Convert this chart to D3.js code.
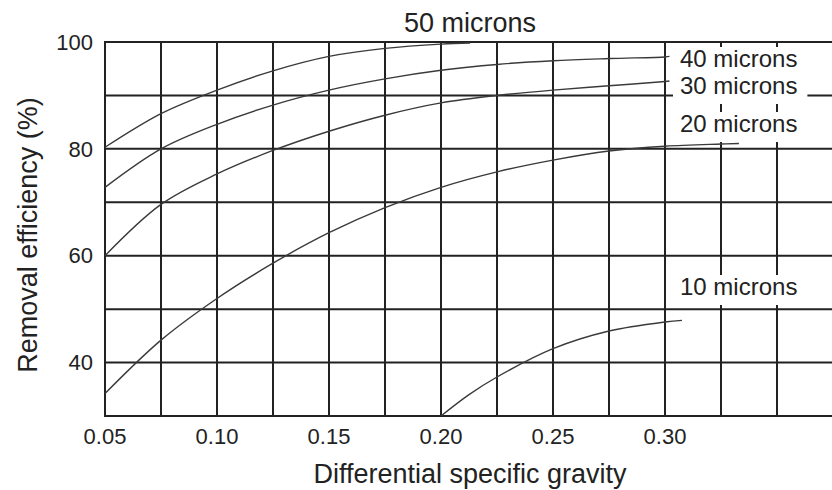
<!DOCTYPE html>
<html>
<head>
<meta charset="utf-8">
<script src="https://cdn.jsdelivr.net/npm/d3@7"></script>
<style>
  body { margin: 0; background: #fff; }
  text { font-family: "Liberation Sans", Arial, Helvetica, sans-serif; fill: #222; }
</style>
</head>
<body>
<script>
// values
var xGrid = [0.05, 0.075, 0.1, 0.125, 0.15, 0.175, 0.2, 0.225, 0.25, 0.275, 0.3, 0.325, 0.35];
var yGrid = [30, 40, 50, 60, 70, 80, 90, 100];
var xTickLabels = [0.05, 0.10, 0.15, 0.20, 0.25, 0.30];
var yTickLabels = [40, 60, 80, 100];

var sg50 = [0.05, 0.075, 0.1, 0.125, 0.15, 0.175, 0.2, 0.213];
var eff50 = [80.3, 86.6, 91, 94.6, 97.3, 98.8, 99.6, 99.8];
var sg40 = [0.05, 0.075, 0.1, 0.125, 0.15, 0.175, 0.2, 0.225, 0.25, 0.275, 0.3, 0.302];
var eff40 = [72.8, 80, 84.6, 88.2, 91, 93.1, 94.7, 95.8, 96.5, 96.9, 97.2, 97.3];
var sg30 = [0.05, 0.075, 0.1, 0.125, 0.15, 0.175, 0.2, 0.225, 0.25, 0.275, 0.3, 0.302];
var eff30 = [60, 69.6, 75.3, 79.7, 83.3, 86.3, 88.6, 90, 91, 91.8, 92.6, 92.7];
var sg20 = [0.05, 0.075, 0.1, 0.125, 0.15, 0.175, 0.2, 0.225, 0.25, 0.275, 0.3, 0.325, 0.333];
var eff20 = [34.2, 44.2, 52, 58.6, 64.3, 69, 72.8, 75.7, 77.9, 79.6, 80.5, 80.9, 81];
var sg10 = [0.2, 0.2125, 0.225, 0.25, 0.275, 0.3, 0.3076];
var eff10 = [30, 34, 37.3, 42.6, 45.9, 47.6, 47.9];

var width = 832, height = 490;

var svg = d3.select("body")
    .append("svg")
    .attr("width", width)
    .attr("height", height);

var x = d3.scaleLinear().domain([0.05, 0.375]).range([105, 833]);
var y = d3.scaleLinear().domain([30, 100]).range([416, 42]);

// grid
var grid = svg.append("g").attr("class", "grid")
    .style("stroke", "#222")
    .style("stroke-width", 2);

grid.selectAll("line.v")
    .data(xGrid)
    .enter().append("line")
    .attr("class", "v")
    .attr("x1", function (d) { return x(d); })
    .attr("x2", function (d) { return x(d); })
    .attr("y1", y(100))
    .attr("y2", y(30));

grid.selectAll("line.h")
    .data(yGrid)
    .enter().append("line")
    .attr("class", "h")
    .attr("x1", x(0.05) - 1)
    .attr("x2", width)
    .attr("y1", function (d) { return y(d); })
    .attr("y2", function (d) { return y(d); });

// curves
var line = d3.line()
    .x(function (d) { return x(d[0]); })
    .y(function (d) { return y(d[1]); })
    .curve(d3.curveCatmullRom.alpha(0.5));

var curves = [
    d3.zip(sg50, eff50),
    d3.zip(sg40, eff40),
    d3.zip(sg30, eff30),
    d3.zip(sg20, eff20),
    d3.zip(sg10, eff10)
];

svg.append("g")
    .selectAll("path")
    .data(curves)
    .enter().append("path")
    .attr("d", line)
    .style("fill", "none")
    .style("stroke", "#3a3a3a")
    .style("stroke-width", 1.4);

// curve labels with white boxes behind them
var labels = [
    {text: "40 microns", x: 680, y: 67},
    {text: "30 microns", x: 680, y: 94},
    {text: "20 microns", x: 680, y: 132},
    {text: "10 microns", x: 680, y: 295}
];

var lg = svg.append("g");
labels.forEach(function (d) {
    var g = lg.append("g");
    var rect = g.append("rect").style("fill", "#fff");
    var t = g.append("text")
        .attr("x", d.x)
        .attr("y", d.y)
        .style("font-size", "24px")
        .text(d.text);
    var b = t.node().getBBox();
    rect.attr("x", b.x - 7)
        .attr("y", b.y + 2)
        .attr("width", b.width + 17)
        .attr("height", b.height + 3);
});

svg.append("text")
    .attr("x", 470)
    .attr("y", 32)
    .attr("text-anchor", "middle")
    .style("font-size", "27px")
    .text("50 microns");

// tick labels
svg.selectAll("text.xt")
    .data(xTickLabels)
    .enter().append("text")
    .attr("class", "xt")
    .attr("x", function (d) { return x(d); })
    .attr("y", 444)
    .attr("text-anchor", "middle")
    .style("font-size", "22px")
    .text(d3.format(".2f"));

svg.selectAll("text.yt")
    .data(yTickLabels)
    .enter().append("text")
    .attr("class", "yt")
    .attr("x", 93)
    .attr("y", function (d) { return y(d); })
    .attr("dy", "0.35em")
    .attr("text-anchor", "end")
    .style("font-size", "22px")
    .text(function (d) { return d; });

// axis titles
svg.append("text")
    .attr("x", 470)
    .attr("y", 483)
    .attr("text-anchor", "middle")
    .style("font-size", "27px")
    .text("Differential specific gravity");

svg.append("text")
    .attr("transform", "translate(37,235) rotate(-90)")
    .attr("text-anchor", "middle")
    .style("font-size", "27px")
    .text("Removal efficiency (%)");
</script>
</body>
</html>
